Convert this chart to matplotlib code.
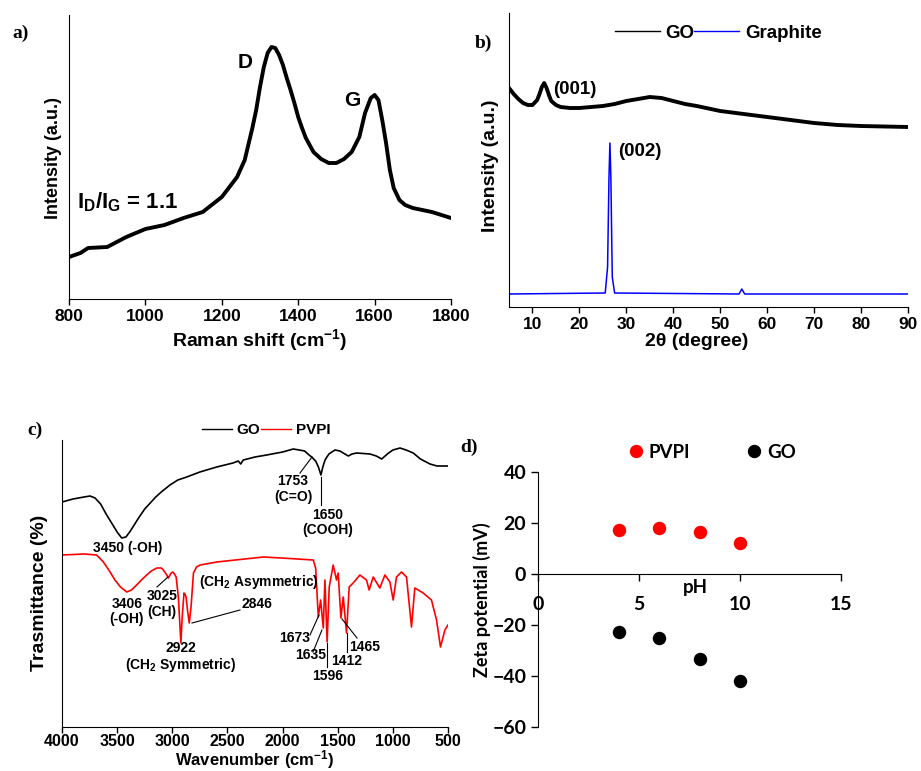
import matplotlib
matplotlib.use('Agg')
import matplotlib.pyplot as plt
from matplotlib.lines import Line2D

plt.rcParams['font.family'] = 'Liberation Sans'
plt.rcParams['font.weight'] = 'bold'
plt.rcParams['mathtext.fontset'] = 'custom'
plt.rcParams['mathtext.rm'] = 'Liberation Sans:bold'
plt.rcParams['mathtext.it'] = 'Liberation Sans:bold'
plt.rcParams['mathtext.bf'] = 'Liberation Sans:bold'
plt.rcParams['mathtext.default'] = 'rm'

# a) Raman
raman_shift = [800, 830, 850, 900, 950, 1000, 1050, 1100, 1150, 1180, 1200, 1220, 1240, 1260,
               1280, 1290, 1300, 1310, 1320, 1330, 1340, 1350, 1360, 1370, 1380, 1390, 1400,
               1410, 1420, 1440, 1460, 1480, 1500, 1520, 1540, 1560, 1575, 1590, 1600, 1610,
               1620, 1630, 1640, 1650, 1665, 1680, 1700, 1750, 1800]
raman_int = [42, 46, 51, 52, 62, 70, 74, 81, 87, 96, 102, 112, 122, 139,
             171, 189, 212, 232, 246, 252, 251, 244, 234, 221, 209, 196, 182,
             171, 161, 147, 140, 136, 136, 140, 147, 162, 186, 201, 204, 199,
             179, 156, 129, 111, 99, 94, 91, 87, 81]

# b) XRD
go_2theta = [5, 6, 7, 8, 9, 10, 11, 11.5, 12, 12.5, 13, 13.5, 14, 15, 16, 18, 20, 22.5, 25,
             27.5, 30, 32.5, 35, 37.5, 40, 42.5, 45, 50, 55, 60, 65, 70, 75, 80, 85, 90]
go_xrd = [219, 213, 208, 204, 202, 202, 207, 213, 220, 224, 219, 212, 206, 202, 200, 199,
          199, 200, 201, 203, 206, 208, 210, 209, 206, 203, 201, 196, 193, 190, 187, 184,
          182, 181, 180.5, 180]
gr_2theta = [5, 25.5, 26.0, 26.3, 26.5, 26.7, 27.0, 27.5, 54.0, 54.6, 55.2, 90]
gr_xrd = [13, 14, 40, 130, 164, 130, 30, 14, 13, 18, 13, 13]

# c) FTIR
go_wn = [4000, 3900, 3800, 3746, 3700, 3650, 3600, 3550, 3500, 3459, 3420, 3380, 3340, 3300,
         3250, 3200, 3150, 3100, 3021, 2950, 2869, 2750, 2597, 2450, 2401, 2380, 2356, 2250,
         2144, 2000, 1903, 1850, 1800, 1760, 1736, 1700, 1675, 1652, 1635, 1615, 1580, 1525,
         1480, 1450, 1404, 1370, 1328, 1207, 1150, 1101, 1050, 1000, 935, 880, 815, 750,
         663, 600, 500]
go_tr = [225, 228, 230, 231, 229, 223, 213, 204, 195, 189, 190, 196, 203, 210,
         218, 224, 230, 235, 242, 247, 250, 255, 260, 264, 266, 263, 267, 270,
         272, 275, 278, 277, 276, 272, 270, 266, 260, 252, 260, 267, 273, 277,
         276, 274, 271, 273, 274, 273, 271, 268, 273, 277, 279, 277, 274, 268,
         263, 261, 261]
pvpi_wn = [4000, 3800, 3686, 3625, 3570, 3520, 3470, 3413, 3370, 3323, 3280, 3232, 3190, 3141,
           3100, 3081, 3050, 3036, 3010, 2995, 2975, 2965, 2945, 2930, 2922, 2910, 2894, 2885,
           2875, 2860, 2846, 2830, 2808, 2780, 2748, 2597, 2174, 2009, 1722, 1700, 1676, 1655,
           1631, 1616, 1596, 1577, 1541, 1511, 1496, 1471, 1450, 1420, 1396, 1360, 1299, 1239,
           1215, 1178, 1118, 1072, 1027, 997, 967, 922, 876, 831, 801, 725, 650, 604, 568,
           528, 500]
pvpi_tr = [172, 173, 172, 165, 156, 147, 140, 135, 137, 142, 147, 152, 156, 159,
           159, 157, 152, 149, 154, 155, 152, 150, 130, 100, 84, 110, 134, 133,
           130, 115, 104, 120, 154, 160, 162, 165, 170, 169, 167, 159, 110, 127,
           99, 147, 85, 140, 162, 147, 154, 109, 130, 94, 140, 144, 152, 147,
           137, 150, 139, 152, 145, 127, 150, 155, 150, 100, 139, 134, 127, 107, 80,
           97, 102]

ftir_labels = ['1753\n(C=O)', '1650\n(COOH)', '3450 (-OH)', '3406\n(-OH)', '3025\n(CH)',
               '(CH$_2$ Asymmetric)', '2846', '2922\n(CH$_2$ Symmetric)', '1673', '1635',
               '1596', '1412', '1465']
ftir_label_xy = [(1906, 238), (1588, 204.5), (3402, 179), (3411, 115.5), (3093, 123),
                 (2214, 145), (2232, 123), (2920, 69.5), (1887, 89), (1742, 72),
                 (1588, 51), (1416, 66), (1253, 80)]
ftir_leaders = [((1842, 254), (1733, 270)), ((1652, 250), (1652, 222)),
                ((3139, 140), (3039, 150)), ((2821, 104), (2386, 117)),
                ((1751, 92), (1670, 112)), ((1724, 75), (1643, 97)),
                ((1597, 84), (1597, 60)), ((1416, 94), (1416, 75)),
                ((1461, 108), (1325, 89))]

# d) zeta potential
ph = [4, 6, 8, 10]
zeta_pvpi = [17.1, 17.9, 16.5, 12.0]
zeta_go = [-22.9, -25.0, -33.3, -41.8]

W, H = 921, 771
fig = plt.figure(figsize=(W / 100, H / 100), dpi=100)


def box(x0, y0, x1, y1):
    return [x0 / W, 1 - y1 / H, (x1 - x0) / W, (y1 - y0) / H]


def ftext(x, y, s, **kw):
    fig.text(x / W, 1 - y / H, s, **kw)


def clean(ax):
    ax.spines['top'].set_visible(False)
    ax.spines['right'].set_visible(False)
    ax.set_yticks([])


serif = dict(family='Liberation Serif', weight='bold', fontsize=14, ha='left', va='center')

# ---- a
ax = fig.add_axes(box(69, 15, 451, 299))
ax.plot(raman_shift, raman_int, color='black', lw=2.8, solid_joinstyle='round')
ax.set_xlim(800, 1800)
ax.set_ylim(0, 284)
ax.set_xticks(range(800, 1801, 200))
ax.tick_params(axis='x', length=4, width=1, labelsize=12.5, pad=3)
clean(ax)
ax.text(1261, 237, 'D', fontsize=15, ha='center', va='center')
ax.text(1541, 199, 'G', fontsize=15, ha='center', va='center')
ax.text(821, 97, 'I$_D$/I$_G$ = 1.1', fontsize=16, ha='left', va='center')
ftext(260, 340, 'Raman shift (cm$^{-1}$)', fontsize=14, ha='center', va='center')
ftext(53, 158, 'Intensity (a.u.)', fontsize=13, rotation=90, ha='center', va='center')
ftext(12, 33, 'a)', **serif)

# ---- b
ax = fig.add_axes(box(509, 13, 908, 307))
ax.plot(go_2theta, go_xrd, color='black', lw=2.8, solid_joinstyle='round')
ax.plot(gr_2theta, gr_xrd, color='#0000ff', lw=1.1)
ax.set_xlim(5, 90)
ax.set_ylim(0, 294)
ax.set_xticks(range(10, 91, 10))
ax.tick_params(axis='x', length=4, width=1, labelsize=12.5, pad=3)
clean(ax)
ax.text(14.4, 217, '(001)', fontsize=13.5, ha='left', va='center')
ax.text(28.2, 155, '(002)', fontsize=13.5, ha='left', va='center')
ftext(697, 341, '2θ (degree)', fontsize=14, ha='center', va='center')
ftext(490, 166, 'Intensity (a.u.)', fontsize=14, rotation=90, ha='center', va='center')
ftext(475, 43, 'b)', **serif)
hb = [Line2D([], [], color='black', lw=1), Line2D([], [], color='#0000ff', lw=1)]
fig.legend(hb, ['GO', 'Graphite'], loc='center', bbox_to_anchor=(718 / W, 1 - 33 / H),
           ncol=2, frameon=False, handlelength=2.4, handletextpad=0.3, columnspacing=0.0,
           borderpad=0, fontsize=13.5)

# ---- c
ax = fig.add_axes(box(62, 440, 448, 727))
ax.plot(go_wn, go_tr, color='black', lw=1.2)
ax.plot(pvpi_wn, pvpi_tr, color='#ff0000', lw=1.2)
ax.set_xlim(4000, 500)
ax.set_ylim(0, 287)
ax.set_xticks(range(4000, 499, -500))
ax.tick_params(axis='x', length=4, width=1, labelsize=11.5, pad=1)
clean(ax)
for lab, (x, y) in zip(ftir_labels, ftir_label_xy):
    ax.text(x, y, lab, fontsize=10, ha='center', va='center', linespacing=1.15)
for (x1, y1), (x2, y2) in ftir_leaders:
    ax.plot([x1, x2], [y1, y2], color='black', lw=0.8)
ftext(255, 771, 'Wavenumber (cm$^{-1}$)', fontsize=12, ha='center', va='bottom')
ftext(40, 593, 'Trasmittance (%)', fontsize=14, rotation=90, ha='center', va='center')
ftext(27, 430, 'c)', **serif)
hc = [Line2D([], [], color='black', lw=1), Line2D([], [], color='#ff0000', lw=1)]
fig.legend(hc, ['GO', 'PVPI'], loc='center', bbox_to_anchor=(266 / W, 1 - 430 / H),
           ncol=2, frameon=False, handlelength=2.0, handletextpad=0.3, columnspacing=0.0,
           borderpad=0, fontsize=11)

# ---- d
lato = dict(family='Lato', weight='bold')
ax = fig.add_axes(box(538, 472, 841, 727))
ax.scatter(ph, zeta_pvpi, s=75, color='#ff0000', zorder=3)
ax.scatter(ph, zeta_go, s=75, color='black', zorder=3)
ax.set_xlim(0, 15)
ax.set_ylim(-60, 40)
ax.set_xticks([0, 5, 10, 15])
ax.set_yticks(range(-60, 41, 20))
ax.spines['top'].set_visible(False)
ax.spines['right'].set_visible(False)
ax.spines['bottom'].set_position(('data', 0))
ax.tick_params(axis='both', length=5, width=1)
ax.tick_params(axis='x', pad=11)
for t in ax.get_xticklabels() + ax.get_yticklabels():
    t.set_fontfamily('Lato')
    t.set_fontweight('bold')
    t.set_fontsize(14)
ftext(695, 588, 'pH', fontsize=13.5, ha='center', va='center', **lato)
ftext(482, 600, 'Zeta potential (mV)', fontsize=13, rotation=90, ha='center',
      va='center', **lato)
ftext(460, 447, 'd)', **serif)
hd = [Line2D([], [], color='#ff0000', marker='o', ls='none', markersize=8.6),
      Line2D([], [], color='black', marker='o', ls='none', markersize=8.6)]
fig.legend(hd, ['PVPI', 'GO'], loc='center', bbox_to_anchor=(712 / W, 1 - 452 / H),
           ncol=2, frameon=False, handlelength=0.8, handletextpad=0.3, columnspacing=3.0,
           borderpad=0, prop=dict(family='Lato', weight='bold', size=13.5))

fig.savefig('out.png', dpi=100)
